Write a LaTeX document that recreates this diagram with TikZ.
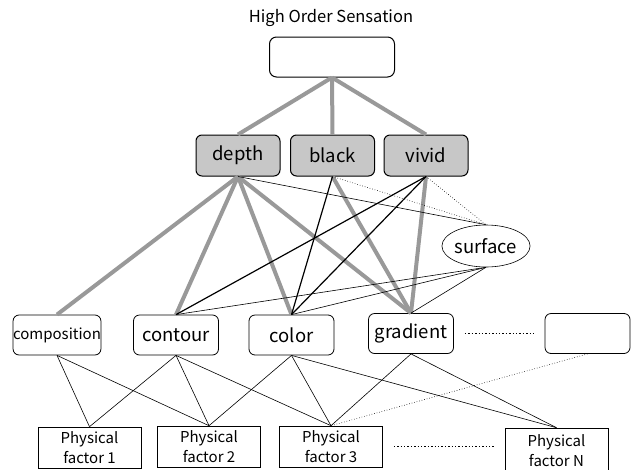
\documentclass[tikz,border=0pt]{standalone}
\usepackage{fontspec}
\setmainfont{Noto Sans CJK JP}
\usetikzlibrary{shapes.geometric}

\begin{document}
\begin{tikzpicture}[x=1pt, y=-1pt,
		sensbox/.style={draw, rounded corners=6pt, line width=1pt, fill=black!22, minimum width=84pt, minimum height=41pt, inner sep=0pt, font=\fontsize{18.5}{20}\selectfont},
		elembox/.style={draw, rounded corners=6pt, line width=0.8pt, fill=white, minimum width=85pt, minimum height=40pt, inner sep=0pt, font=\fontsize{18.5}{20}\selectfont},
		physbox/.style={draw, line width=0.6pt, fill=white, minimum width=103pt, minimum height=41pt, inner sep=0pt, align=center, font=\fontsize{15}{20}\selectfont},
		strong/.style={line width=4pt, draw=black!40},
		weak/.style={line width=0.6pt},
		mid/.style={line width=1.2pt},
		loose/.style={line width=0.6pt, dotted},
		etc/.style={line width=1.4pt, dotted}]
		\useasboundingbox (0,0) rectangle (631,469);
		
		\node (title) at (331,18) {\fontsize{16.5}{18}\selectfont High Order Sensation};
		\node[draw, rounded corners=7pt, line width=1pt, minimum width=125pt, minimum height=40pt] (hos) at (332,57) {};
		
		\node[sensbox] (depth) at (238,155.5) {depth};
		\node[sensbox] (black) at (332.5,155.5) {black};
		\node[sensbox] (vivid) at (426,155.5) {vivid};
		\node[ellipse, draw, line width=0.6pt, minimum width=86pt, minimum height=42pt, inner sep=0pt, font=\fontsize{18.5}{20}\selectfont] (surface) at (486,246) {surface};
		
		\node[elembox, font=\fontsize{15}{17}\selectfont] (comp) at (57,335) {composition};
		\node[elembox] (contour) at (176,335) {contour};
		\node[elembox] (color) at (291.5,335) {color};
		\node[elembox] (gradient) at (411,333.5) {gradient};
		\node[elembox] (blank) at (587.5,333.5) {};
		
		\node[physbox] (pf1) at (89.5,447.5) {Physical\\factor 1};
		\node[physbox] (pf2) at (209,446.5) {Physical\\factor 2};
		\node[physbox] (pf3) at (331,446.5) {Physical\\factor 3};
		\node[physbox, minimum height=46pt] (pfn) at (556.5,451) {Physical\\factor N};
		
		% high order sensation
		\draw[strong] (hos.south) -- (depth.north);
		\draw[strong] (hos.south) -- (black.north);
		\draw[strong] (hos.south) -- (vivid.north);
		
		% sensations to elements
		\draw[strong] (depth.south) -- (comp.north);
		\draw[strong] (depth.south) -- (contour.north);
		\draw[strong] (depth.south) -- (color.north);
		\draw[strong] (depth.south) -- (gradient.north);
		\draw[strong] (black.south) -- (gradient.north);
		\draw[strong] (vivid.south) -- (gradient.north);
		\draw[weak] (depth.south) -- (surface.north);
		\draw[mid] (black.south) -- (color.north);
		\draw[mid] (vivid.south) -- (contour.north);
		\draw[mid] (vivid.south) -- (color.north);
		\draw[loose] (black.south) -- (surface.north);
		\draw[loose] (vivid.south) -- (surface.north);
		\draw[weak] (surface.south) -- (contour.north);
		\draw[weak] (surface.south) -- (color.north);
		\draw[weak] (surface.south) -- (gradient.north);
		
		% elements to physical factors
		\draw[weak] (comp.south) -- (pf1.north);
		\draw[weak] (comp.south) -- (pf2.north);
		\draw[weak] (contour.south) -- (pf1.north);
		\draw[weak] (contour.south) -- (pf2.north);
		\draw[weak] (contour.south) -- (pf3.north);
		\draw[weak] (color.south) -- (pf2.north);
		\draw[weak] (color.south) -- (pf3.north);
		\draw[weak] (color.south) -- (pfn.north);
		\draw[weak] (gradient.south) -- (pf3.north);
		\draw[weak] (gradient.south) -- (pfn.north);
		\draw[loose] (blank.south) -- (pf3.north);
		
		\draw[etc, shorten <=11pt, shorten >=10pt] (gradient.east) -- (blank.west);
		\draw[etc, shorten <=11pt, shorten >=10pt] (pf3.east) -- (pfn.west |- pf3.east);
	\end{tikzpicture}
\end{document}
